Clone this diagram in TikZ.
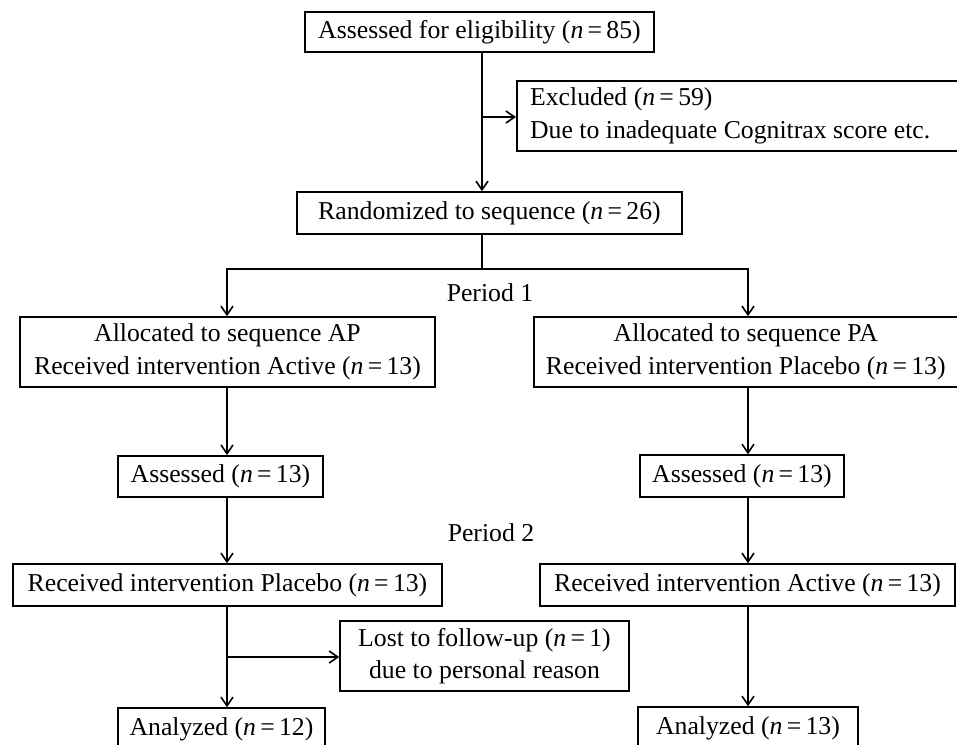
\documentclass[tikz,border=0pt]{standalone}
\usepackage{fontspec}
\setmainfont{Liberation Serif}
\usetikzlibrary{arrows.meta}
\begin{document}
\begin{tikzpicture}[x=0.75pt,y=-0.75pt,
  every node/.style={font=\fontsize{19.3pt}{24.5pt}\selectfont, inner sep=0pt},
  box/.style={draw, line width=1.2pt, align=center},
  lbl/.style={},
  conn/.style={line width=1.2pt},
  arr/.style={conn, -{Straight Barb[length=6.5pt,width=9pt,line width=1.2pt]}}]
\useasboundingbox (0,0) rectangle (957,744);
\fill[white] (0,0) rectangle (957,744);
% boxes
\node[box, minimum width=261.75pt, minimum height=30pt] (top) at (479.5,32) {Assessed for eligibility (\textit{n}\,=\,85)};
\node[box, minimum width=333pt, minimum height=52.5pt, align=flush left, anchor=west, text width=313pt] (excl) at (516,116)
  {Excluded (\textit{n}\,=\,59)\\Due to inadequate Cognitrax score etc.};
\node[box, minimum width=288.75pt, minimum height=31.5pt] (rand) at (489.5,213) {Randomized to sequence (\textit{n}\,=\,26)};
\node[box, minimum width=311.25pt, minimum height=52.5pt] (ap) at (227.5,352) {Allocated to sequence AP\\Received intervention Active (\textit{n}\,=\,13)};
\node[box, minimum width=318pt, minimum height=52.5pt, anchor=west] (pa) at (533,352) {Allocated to sequence PA\\Received intervention Placebo (\textit{n}\,=\,13)};
\node[box, minimum width=153.75pt, minimum height=31pt] (assl) at (220.5,476.5) {Assessed (\textit{n}\,=\,13)};
\node[box, minimum width=153pt, minimum height=31.5pt] (assr) at (742,476) {Assessed (\textit{n}\,=\,13)};
\node[box, minimum width=321.75pt, minimum height=31.5pt] (plac) at (227.5,585) {Received intervention Placebo (\textit{n}\,=\,13)};
\node[box, minimum width=311.25pt, minimum height=31.5pt] (act) at (747.5,585) {Received intervention Active (\textit{n}\,=\,13)};
\node[box, minimum width=216.75pt, minimum height=52.5pt] (lost) at (484.5,656) {Lost to follow-up (\textit{n}\,=\,1)\\due to personal reason};
\node[box, minimum width=155.25pt, minimum height=31.5pt] (anl) at (221.5,729) {Analyzed (\textit{n}\,=\,12)};
\node[box, minimum width=165pt, minimum height=31.5pt] (anr) at (748,728) {Analyzed (\textit{n}\,=\,13)};
% labels
\node[lbl] (p1) at (490,293) {Period 1};
\node[lbl] (p2) at (491,533) {Period 2};
% helper coordinates
\coordinate (mx) at (482,0);
\coordinate (lx) at (227,0);
\coordinate (rx) at (748,0);
\coordinate (split) at (482,269);
\coordinate (br1) at (482,117);
\coordinate (br2) at (227,657);
% connectors
\draw[arr] (top.south -| mx) -- (rand.north -| mx);
\draw[arr] (br1) -- (br1 -| excl.west);
\draw[conn] (rand.south -| mx) -- (split);
\draw[arr] (split) -| (ap.north -| lx);
\draw[arr] (split) -| (pa.north -| rx);
\draw[arr] (ap.south -| lx) -- (assl.north -| lx);
\draw[arr] (assl.south -| lx) -- (plac.north -| lx);
\draw[arr] (plac.south -| lx) -- (anl.north -| lx);
\draw[arr] (br2) -- (br2 -| lost.west);
\draw[arr] (pa.south -| rx) -- (assr.north -| rx);
\draw[arr] (assr.south -| rx) -- (act.north -| rx);
\draw[arr] (act.south -| rx) -- (anr.north -| rx);
\end{tikzpicture}
\end{document}
